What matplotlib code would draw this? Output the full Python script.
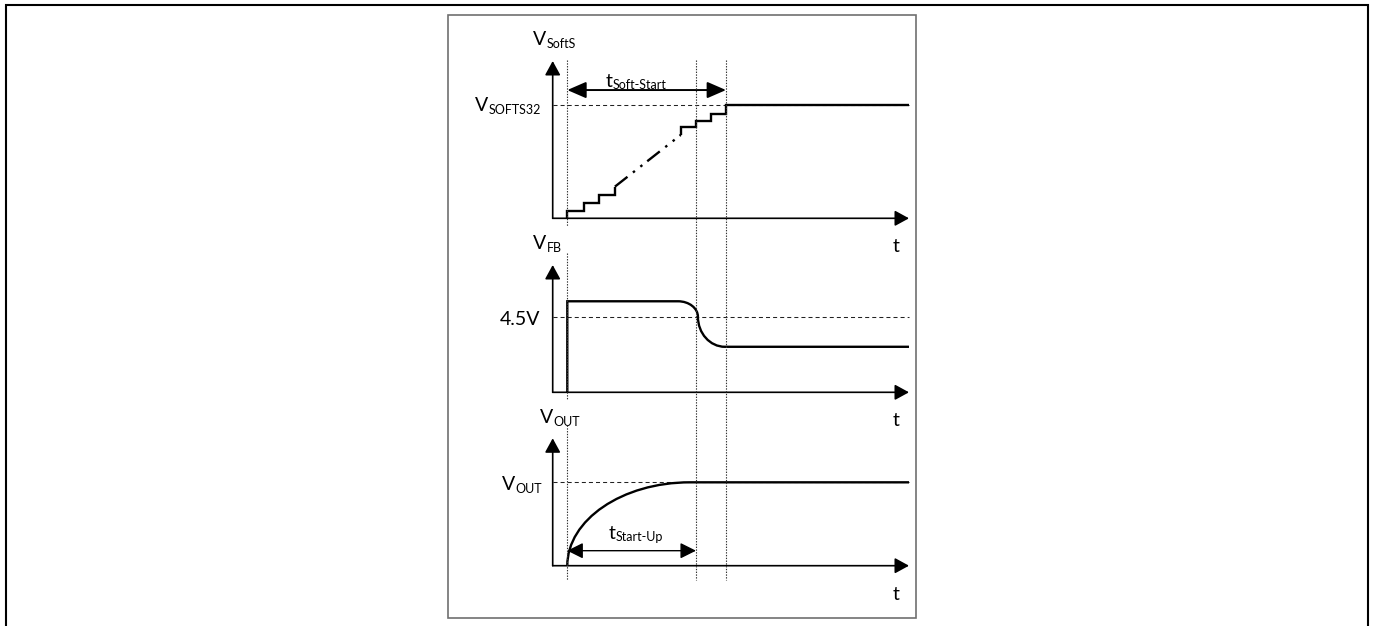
import numpy as np
import matplotlib
matplotlib.use("Agg")
import matplotlib.pyplot as plt
from matplotlib.patches import FancyArrowPatch, PathPatch, Rectangle
from matplotlib.path import Path
from matplotlib.lines import Line2D
import matplotlib.transforms as mtransforms

plt.rcParams["font.family"] = ["Lato", "DejaVu Sans"]
plt.rcParams["lines.scale_dashes"] = False

# ---------------- data (arbitrary time / voltage units) ----------
T_AXIS = -0.92          # where the vertical axes sit
T_START = 0.0
T_STARTUP = 8.11
T_SOFTSTART = 10.0
T_END = 21.53           # arrow tips of the time axes

# V_SoftS (normalised, V_SOFTS32 = 1)
V_SOFTS32 = 1.0
softs_low_t = [0.0, 1.05, 2.02, 3.0]
softs_low_v = [0.065, 0.138, 0.206, 0.28]
softs_high_base = 0.738
softs_high_t = [7.15, 8.09, 9.05, 10.0]
softs_high_v = [0.806, 0.864, 0.923, 1.0]
softs_vmax = 1.392
softs_arrow_v = 1.135

# V_FB (volts)
FB_REF = 4.5
fb_vmax = 7.58
fb_t = [0.0, 0.0, 6.98, 7.67, 8.23, 8.23, 8.23, 8.99, 9.93, T_END]
fb_v = [0.0, 5.42, 5.42, 5.42, 5.01, 4.5, 3.51, 2.71, 2.71, 2.71]

# V_OUT (normalised, V_OUT = 1)
V_OUT = 1.0
vout_ctrl_t = [0.0, 0.0, 3.46, 7.73]
vout_ctrl_v = [0.0, 0.55, 1.0, 1.0]
vout_vmax = 1.528
startup_arrow_v = 0.18

# ---------------- figure ----------------
W, H = 1375, 626
fig = plt.figure(figsize=(W / 100, H / 100), dpi=100)
fig.patch.set_facecolor("white")

FS = 14
FS_SUB = 9
SUB_DROP = 1.5
LW_WAVE = 1.7
LW_AXIS = 1.2
DASH = (0, (2.9, 2.2))
DOT = (0, (1, 1))


def add_panel(x0, ytop, x1, ybot, vmax):
    ax = fig.add_axes([x0 / W, 1 - ybot / H, (x1 - x0) / W, (ybot - ytop) / H])
    ax.axis("off")
    ax.set_xlim(T_AXIS, T_END)
    ax.set_ylim(0, vmax)
    return ax


ax1 = add_panel(552.7, 61, 909, 218.3, softs_vmax)
ax2 = add_panel(552.7, 265, 909, 392.3, fb_vmax)
ax3 = add_panel(552.7, 438.3, 909, 565.7, vout_vmax)


def axis_arrows(ax):
    for end in [(0, 1), (1, 0)]:
        ax.add_patch(FancyArrowPatch((0, 0), end, transform=ax.transAxes,
                                     arrowstyle="-|>,head_length=8.6,head_width=4.7",
                                     mutation_scale=1, lw=LW_AXIS, color="black",
                                     shrinkA=0, shrinkB=0, clip_on=False, zorder=3))


def sublabel(ax, xy, xycoords, main, sub, ha="left", offset=(0, 0)):
    if ha == "left":
        m = ax.annotate(main, xy=xy, xycoords=xycoords, xytext=offset,
                        textcoords="offset pixels", ha="left", va="baseline",
                        fontsize=FS, annotation_clip=False)
        ax.annotate(sub, xy=(1, 0), xycoords=m, xytext=(0, -SUB_DROP),
                    textcoords="offset pixels", ha="left", va="bottom",
                    fontsize=FS_SUB, annotation_clip=False)
    else:
        s = ax.annotate(sub, xy=xy, xycoords=xycoords, xytext=offset,
                        textcoords="offset pixels", ha="right", va="baseline",
                        fontsize=FS_SUB, annotation_clip=False)
        ax.annotate(main, xy=(0, 0), xycoords=s, xytext=(0, SUB_DROP),
                    textcoords="offset pixels", ha="right", va="bottom",
                    fontsize=FS, annotation_clip=False)


wave_kw = dict(color="black", lw=LW_WAVE, clip_on=False, zorder=4,
               solid_capstyle="butt", solid_joinstyle="miter")

for ax in (ax1, ax2, ax3):
    axis_arrows(ax)
    ax.annotate("t", xy=(1, 0), xycoords="axes fraction", xytext=(-12.5, -34),
                textcoords="offset pixels", ha="center", va="baseline",
                fontsize=FS, annotation_clip=False)

# ---- top panel: V_SoftS ----
ax1.plot([T_AXIS, T_END], [V_SOFTS32, V_SOFTS32], ls=DASH, lw=0.75, color="#222222",
         clip_on=False, zorder=2)
ax1.step(np.r_[T_START, softs_low_t], np.r_[0.0, softs_low_v], where="post", **wave_kw)
ax1.plot([softs_low_t[-1], softs_high_t[0]], [softs_low_v[-1], softs_high_base],
         ls=(0, (11.5, 5, 1.8, 5, 1.8, 4.5)), lw=LW_WAVE, color="black",
         dash_capstyle="butt", clip_on=False, zorder=4)
ax1.step(np.r_[softs_high_t[0], softs_high_t, T_END],
         np.r_[softs_high_base, softs_high_v, softs_high_v[-1]], where="post", **wave_kw)
ax1.add_patch(FancyArrowPatch((T_START, softs_arrow_v), (T_SOFTSTART, softs_arrow_v),
                              arrowstyle="<|-|>,head_length=11.5,head_width=5",
                              mutation_scale=1, lw=1.4, color="black",
                              shrinkA=0, shrinkB=0, clip_on=False, zorder=4))
sublabel(ax1, (0, 1), "axes fraction", "V", "SoftS", offset=(-19.7, 16))
sublabel(ax1, (0, V_SOFTS32), ("axes fraction", "data"), "V", "SOFTS32", ha="right",
         offset=(-12, -8.5))
sublabel(ax1, (T_START, softs_arrow_v), "data", "t", "Soft-Start", offset=(38.4, 3.3))

# ---- middle panel: V_FB ----
ax2.plot([T_AXIS, T_END], [FB_REF, FB_REF], ls=DASH, lw=0.75, color="#222222",
         clip_on=False, zorder=2)
codes = [Path.MOVETO, Path.LINETO, Path.LINETO, Path.CURVE4, Path.CURVE4, Path.CURVE4,
         Path.CURVE4, Path.CURVE4, Path.CURVE4, Path.LINETO]
ax2.add_patch(PathPatch(Path(np.column_stack([fb_t, fb_v]), codes), fill=False,
                        ec="black", lw=LW_WAVE, clip_on=False, zorder=4,
                        joinstyle="miter", capstyle="butt"))
sublabel(ax2, (0, 1), "axes fraction", "V", "FB", offset=(-19.4, 15.7))
ax2.annotate("4.5V", xy=(0, FB_REF), xycoords=("axes fraction", "data"),
             xytext=(-12.7, -8.3), textcoords="offset pixels", ha="right",
             va="baseline", fontsize=FS, annotation_clip=False)

# ---- bottom panel: V_OUT ----
ax3.plot([T_AXIS, T_END], [V_OUT, V_OUT], ls=DASH, lw=0.75, color="#222222",
         clip_on=False, zorder=2)
vout_verts = np.column_stack([np.r_[vout_ctrl_t, T_END], np.r_[vout_ctrl_v, V_OUT]])
ax3.add_patch(PathPatch(Path(vout_verts, [Path.MOVETO, Path.CURVE4, Path.CURVE4,
                                          Path.CURVE4, Path.LINETO]),
                        fill=False, ec="black", lw=LW_WAVE, clip_on=False, zorder=4,
                        capstyle="butt"))
ax3.add_patch(FancyArrowPatch((T_START, startup_arrow_v), (T_STARTUP, startup_arrow_v),
                              arrowstyle="<|-|>,head_length=9.6,head_width=4.8",
                              mutation_scale=1, lw=1.0, color="black",
                              shrinkA=0, shrinkB=0, clip_on=False, zorder=4))
sublabel(ax3, (0, 1), "axes fraction", "V", "OUT", offset=(-12.7, 15))
sublabel(ax3, (0, V_OUT), ("axes fraction", "data"), "V", "OUT", ha="right",
         offset=(-11, -10.5))
sublabel(ax3, (T_START, startup_arrow_v), "data", "t", "Start-Up", offset=(41, 11.7))

# ---- dotted time markers spanning all panels ----
trans = mtransforms.blended_transform_factory(ax1.transData, fig.transFigure)
markers = [(T_START, [(60, 226), (253, 400), (425, 580)]),
           (T_STARTUP, [(60, 580)]),
           (T_SOFTSTART, [(60, 580)])]
for t, segs in markers:
    for y0, y1 in segs:
        fig.add_artist(Line2D([t, t], [1 - y0 / H, 1 - y1 / H], transform=trans,
                              ls=DOT, lw=0.8, color="#333333", zorder=5))

# ---- frames ----
fig.add_artist(Line2D(np.array([6.3, 6.3, 1368, 1368]) / W,
                      1 - np.array([640, 5.3, 5.3, 640]) / H,
                      transform=fig.transFigure, lw=1.5, color="black",
                      solid_joinstyle="miter"))
fig.add_artist(Rectangle((448.3 / W, 1 - 618.3 / H), (916 - 448.3) / W,
                         (618.3 - 14.7) / H, transform=fig.transFigure,
                         fill=False, ec="#707070", lw=1.2))

fig.savefig("out.png", dpi=100, facecolor="white")
